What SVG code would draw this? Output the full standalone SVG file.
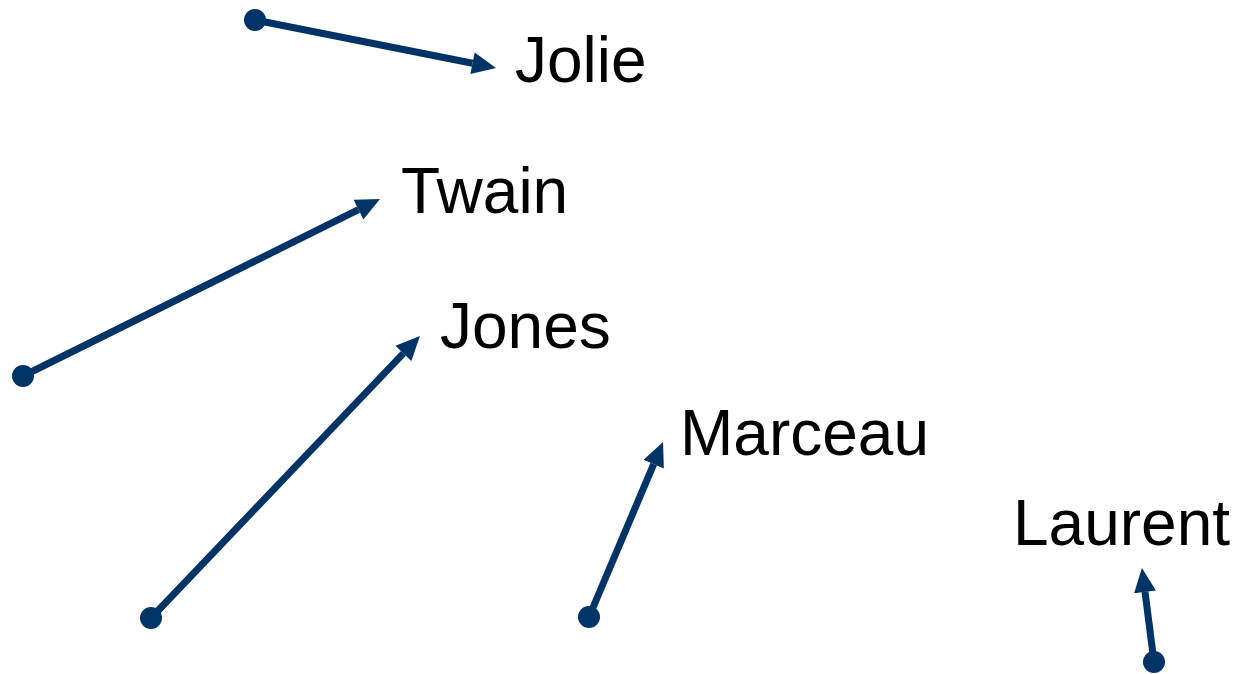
<svg xmlns="http://www.w3.org/2000/svg" width="1238" height="674" viewBox="0 0 1238 674">
<style>
.lbl{font-family:"Liberation Sans",Arial,sans-serif;font-size:64px;fill:#000}
.con{stroke:#003366;stroke-width:7;fill:none;marker-end:url(#ah)}
.dot{fill:#003366}
</style>
<defs>
<marker id="ah" markerUnits="userSpaceOnUse" markerWidth="24" markerHeight="22" refX="0" refY="11" orient="auto" overflow="visible">
<path d="M0,0 L24,11 L0,22 z" fill="#003366"/>
</marker>
</defs>
<rect width="1238" height="674" fill="#fff"/>
<g id="connectors">
<line class="con" x1="255" y1="20" x2="472.5" y2="63.3"/>
<line class="con" x1="23" y1="376" x2="358.5" y2="209.7"/>
<line class="con" x1="151" y1="618" x2="403.4" y2="353.4"/>
<line class="con" x1="589" y1="617" x2="653.7" y2="464.1"/>
<line class="con" x1="1154" y1="662" x2="1145.0" y2="591.8"/>
<circle class="dot" cx="255" cy="20" r="11"/>
<circle class="dot" cx="23" cy="376" r="11"/>
<circle class="dot" cx="151" cy="618" r="11"/>
<circle class="dot" cx="589" cy="617" r="11"/>
<circle class="dot" cx="1154" cy="662" r="11"/>
</g>
<g id="jolie"><text class="lbl" x="515" y="82">Jolie</text></g>
<g id="twain"><text class="lbl" x="401" y="213">Twain</text></g>
<g id="jones"><text class="lbl" x="440" y="348">Jones</text></g>
<g id="marceau"><text class="lbl" x="680" y="455">Marceau</text></g>
<g id="laurent"><text class="lbl" x="1013" y="545">Laurent</text></g>
</svg>
